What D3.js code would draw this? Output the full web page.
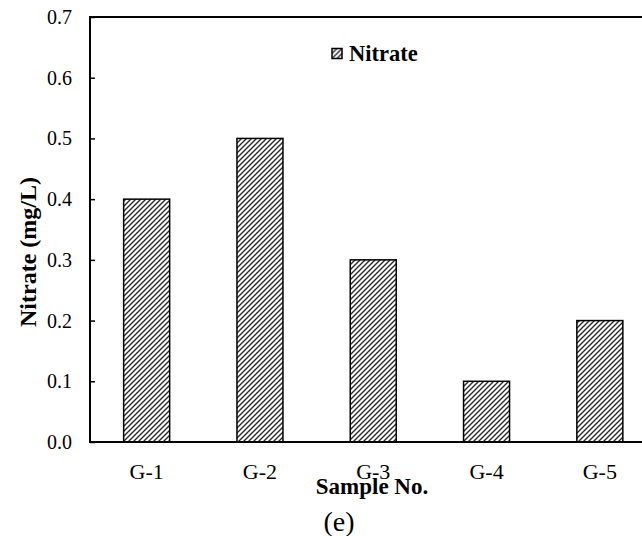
<!DOCTYPE html>
<html>
<head>
<meta charset="utf-8">
<script src="https://cdn.jsdelivr.net/npm/d3@7/dist/d3.min.js"></script>
</head>
<body style="margin:0;background:#fff">
<svg id="chart" width="642" height="536" style="display:block"></svg>
<script>
// Nitrate concentration per groundwater sample
const categories = ["G-1", "G-2", "G-3", "G-4", "G-5"];
const nitrate = [0.4, 0.5, 0.3, 0.1, 0.2];
const yTicks = [0.0, 0.1, 0.2, 0.3, 0.4, 0.5, 0.6, 0.7];

const FONT = "Liberation Serif";

const svg = d3.select("#chart");
const plot = { left: 90, top: 17, bottom: 442, step: 113.3 };
const plotRight = plot.left + plot.step * categories.length;

const x = d3.scaleBand()
  .domain(categories)
  .range([plot.left, plotRight])
  .paddingInner(0.594)
  .paddingOuter(0.297);

const y = d3.scaleLinear()
  .domain([0, 0.7])
  .range([plot.bottom, plot.top]);

// diagonal hatch fill
const defs = svg.append("defs");
const pat = defs.append("pattern")
  .attr("id", "hatch")
  .attr("patternUnits", "userSpaceOnUse")
  .attr("width", 5)
  .attr("height", 5);
pat.append("rect").attr("width", 5).attr("height", 5).attr("fill", "#fff");
pat.append("path")
  .attr("d", "M-1,1 l2,-2 M0,5 l5,-5 M4,6 l2,-2")
  .attr("stroke", "#2a2a2a")
  .attr("stroke-width", 1.4);

// bars
svg.append("g")
  .selectAll("rect")
  .data(categories.map((c, i) => ({ c, v: nitrate[i] })))
  .join("rect")
  .attr("x", d => x(d.c))
  .attr("y", d => y(d.v))
  .attr("width", x.bandwidth())
  .attr("height", d => y(0) - y(d.v))
  .attr("fill", "url(#hatch)")
  .attr("stroke", "#000")
  .attr("stroke-width", 1.5);

// plot frame (left, top, bottom)
svg.append("path")
  .attr("d", `M${plotRight + 20},${plot.top} H${plot.left} V${plot.bottom} H${plotRight + 20}`)
  .attr("fill", "none")
  .attr("stroke", "#000")
  .attr("stroke-width", 2);

// y axis: inner ticks, labels on the left
const yAxis = d3.axisRight(y)
  .tickValues(yTicks)
  .tickSize(5)
  .tickFormat(() => "");
const yg = svg.append("g")
  .attr("transform", `translate(${plot.left},0)`)
  .call(yAxis);
yg.select(".domain").remove();
yg.selectAll(".tick line").attr("stroke", "#000").attr("stroke-width", 1.5);

// all text of the chart goes into one group carrying the serif face
const labels = svg.append("g")
  .attr("font-family", FONT)
  .attr("fill", "#000");

labels.append("g")
  .selectAll("text")
  .data(yTicks)
  .join("text")
  .attr("x", 72)
  .attr("y", d => y(d) + 7)
  .attr("text-anchor", "end")
  .attr("font-size", 20)
  .text(d3.format(".1f"));

// category labels placed by the band scale
labels.append("g")
  .selectAll("text")
  .data(categories)
  .join("text")
  .attr("x", d => x(d) + x.bandwidth() / 2)
  .attr("y", 479)
  .attr("text-anchor", "middle")
  .attr("font-size", 22)
  .text(d => d);

// axis titles
labels.append("text")
  .attr("x", 372)
  .attr("y", 494)
  .attr("text-anchor", "middle")
  .attr("font-size", 23)
  .attr("font-weight", "bold")
  .text("Sample No.");

labels.append("text")
  .attr("transform", "translate(36,252) rotate(-90)")
  .attr("text-anchor", "middle")
  .attr("font-size", 24)
  .attr("font-weight", "bold")
  .text("Nitrate (mg/L)");

labels.append("text")
  .attr("x", 339)
  .attr("y", 531)
  .attr("text-anchor", "middle")
  .attr("font-size", 28)
  .text("(e)");

// legend
const lg = svg.append("g").attr("transform", "translate(332,48.5)");
lg.append("rect")
  .attr("width", 10)
  .attr("height", 10)
  .attr("fill", "url(#hatch)")
  .attr("stroke", "#000")
  .attr("stroke-width", 1.5);
lg.append("text")
  .attr("x", 17)
  .attr("y", 12.2)
  .attr("font-family", FONT)
  .attr("font-size", 22.5)
  .attr("font-weight", "bold")
  .attr("fill", "#000")
  .text("Nitrate");
</script>
</body>
</html>
